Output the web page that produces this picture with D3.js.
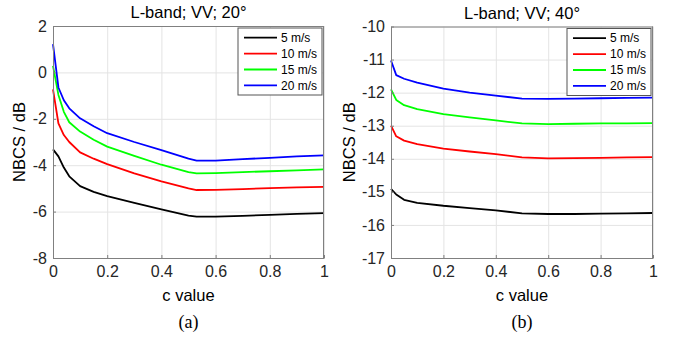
<!DOCTYPE html>
<html>
<head>
<meta charset="utf-8">
<script src="https://cdn.jsdelivr.net/npm/d3@7"></script>
<style>
body { margin: 0; background: #fff; }
text { font-family: "Liberation Sans", Arial, sans-serif; }
</style>
</head>
<body>
<div id="chart"></div>
<script>
// legend entries and line colours
var speeds = ["5 m/s", "10 m/s", "15 m/s", "20 m/s"];
var colors = ["#000000", "#ff0000", "#00ff00", "#0000ff"];

// panel (a): L-band VV 20 deg
var cA = [0, 0.02, 0.04, 0.06, 0.1, 0.15, 0.2, 0.3, 0.4, 0.5, 0.53, 0.6, 0.7, 0.8, 0.9, 1];
var a5  = [-3.32, -3.62, -4.1, -4.48, -4.9, -5.15, -5.33, -5.62, -5.9, -6.17, -6.22, -6.22, -6.18, -6.14, -6.1, -6.07];
var a10 = [-0.73, -2.2, -2.7, -3.0, -3.45, -3.72, -3.95, -4.35, -4.7, -5.0, -5.07, -5.06, -5.03, -4.99, -4.96, -4.93];
var a15 = [0.28, -0.97, -1.7, -2.15, -2.55, -2.9, -3.2, -3.6, -3.98, -4.3, -4.35, -4.34, -4.3, -4.26, -4.22, -4.18];
var a20 = [1.22, -0.65, -1.2, -1.55, -1.98, -2.32, -2.62, -3.0, -3.35, -3.72, -3.8, -3.8, -3.74, -3.68, -3.62, -3.58];
var yTicksA = [2, 0, -2, -4, -6, -8];

// panel (b): L-band VV 40 deg
var cB = [0, 0.02, 0.05, 0.1, 0.2, 0.3, 0.4, 0.5, 0.6, 0.7, 0.8, 0.9, 1];
var b5  = [-14.91, -15.08, -15.24, -15.33, -15.42, -15.49, -15.56, -15.65, -15.67, -15.67, -15.66, -15.65, -15.64];
var b10 = [-13.0, -13.32, -13.45, -13.56, -13.69, -13.78, -13.86, -13.96, -13.99, -13.98, -13.97, -13.96, -13.95];
var b15 = [-11.9, -12.22, -12.38, -12.5, -12.65, -12.75, -12.84, -12.93, -12.95, -12.94, -12.93, -12.93, -12.92];
var b20 = [-11.03, -11.47, -11.58, -11.7, -11.88, -12.0, -12.09, -12.18, -12.19, -12.18, -12.17, -12.16, -12.15];
var yTicksB = [-10, -11, -12, -13, -14, -15, -16, -17];

var xTicks = [0, 0.2, 0.4, 0.6, 0.8, 1];

var svg = d3.select("#chart").append("svg")
    .attr("width", 679)
    .attr("height", 337);

function drawPanel(p) {
    var g = svg.append("g").attr("transform", `translate(${p.left}, ${p.top})`);
    var w = p.width, h = p.height;

    var x = d3.scaleLinear().domain([0, 1]).range([0, w]);
    var y = d3.scaleLinear().domain(p.yDomain).range([h, 0]);

    // grid
    g.append("g")
        .attr("transform", `translate(0, ${h})`)
        .call(d3.axisBottom(x).tickValues(xTicks).tickSize(-h).tickFormat(""))
        .call(s => s.select(".domain").remove())
        .call(s => s.selectAll("line").attr("stroke", "#e4e4e4"));
    g.append("g")
        .call(d3.axisLeft(y).tickValues(p.yTicks).tickSize(-w).tickFormat(""))
        .call(s => s.select(".domain").remove())
        .call(s => s.selectAll("line").attr("stroke", "#e4e4e4"));

    // curves
    var line = d3.line()
        .x(d => x(d[0]))
        .y(d => y(d[1]));
    p.series.forEach((vals, i) => {
        g.append("path")
            .datum(p.c.map((c, j) => [c, vals[j]]))
            .attr("fill", "none")
            .attr("stroke", colors[i])
            .attr("stroke-width", 1.8)
            .attr("stroke-linejoin", "round")
            .attr("d", line);
    });

    // axes (ticks point inward), plain hyphen for minus like matlab
    var xAxis = g.append("g")
        .attr("transform", `translate(0, ${h})`)
        .call(d3.axisBottom(x).tickValues(xTicks).tickSizeInner(-3).tickSizeOuter(0).tickPadding(8)
            .tickFormat(d => String(d)));
    var yAxis = g.append("g")
        .call(d3.axisLeft(y).tickValues(p.yTicks).tickSizeInner(-3).tickSizeOuter(0).tickPadding(6)
            .tickFormat(d => String(d)));
    [xAxis, yAxis].forEach(ax => {
        ax.selectAll("line").attr("stroke", "#808080");
        ax.select(".domain").attr("stroke", "#808080");
        ax.selectAll("text")
            .attr("fill", "#262626")
            .style("font-size", "16px")
            .style("font-family", "Liberation Sans, Arial, sans-serif");
    });
    // box top and right
    g.append("line").attr("x1", 0).attr("x2", w).attr("y1", 0.5).attr("y2", 0.5).attr("stroke", "#808080");
    g.append("line").attr("x1", w - 0.5).attr("x2", w - 0.5).attr("y1", 0).attr("y2", h).attr("stroke", "#808080");

    // title and labels
    g.append("text")
        .attr("x", w / 2).attr("y", -8)
        .attr("text-anchor", "middle")
        .style("font-size", "16.5px")
        .text(p.title);
    g.append("text")
        .attr("x", w / 2).attr("y", h + 43)
        .attr("text-anchor", "middle")
        .style("font-size", "16.5px")
        .text("c value");
    g.append("text")
        .attr("transform", `translate(${-p.yLabelOff}, ${h / 2}) rotate(-90)`)
        .attr("text-anchor", "middle")
        .attr("dy", "0.35em")
        .style("font-size", "16.5px")
        .text("NBCS / dB");
    g.append("text")
        .attr("x", w / 2).attr("y", h + 70)
        .attr("text-anchor", "middle")
        .style("font-family", "Liberation Serif, Times New Roman, serif")
        .style("font-size", "18px")
        .text(p.sub);

    // legend
    var lg = g.append("g").attr("transform", `translate(${w - 86}, 2)`);
    lg.append("rect")
        .attr("width", 84).attr("height", 67)
        .attr("fill", "#fff")
        .attr("stroke", "#555");
    speeds.forEach((s, i) => {
        var ry = 9.7 + i * 15.9;
        lg.append("line")
            .attr("x1", 6).attr("x2", 39)
            .attr("y1", ry).attr("y2", ry)
            .attr("stroke", colors[i])
            .attr("stroke-width", 1.8);
        lg.append("text")
            .attr("x", 43).attr("y", ry)
            .attr("dy", "0.35em")
            .style("font-size", "12px")
            .text(s);
    });
}

drawPanel({
    left: 53, top: 26, width: 271, height: 232,
    yDomain: [-8, 2], yTicks: yTicksA,
    c: cA, series: [a5, a10, a15, a20],
    title: "L-band; VV; 20\u00b0", sub: "(a)", yLabelOff: 34
});
drawPanel({
    left: 391, top: 26.5, width: 262, height: 231.5,
    yDomain: [-17, -10], yTicks: yTicksB,
    c: cB, series: [b5, b10, b15, b20],
    title: "L-band; VV; 40\u00b0", sub: "(b)", yLabelOff: 42
});
</script>
</body>
</html>
